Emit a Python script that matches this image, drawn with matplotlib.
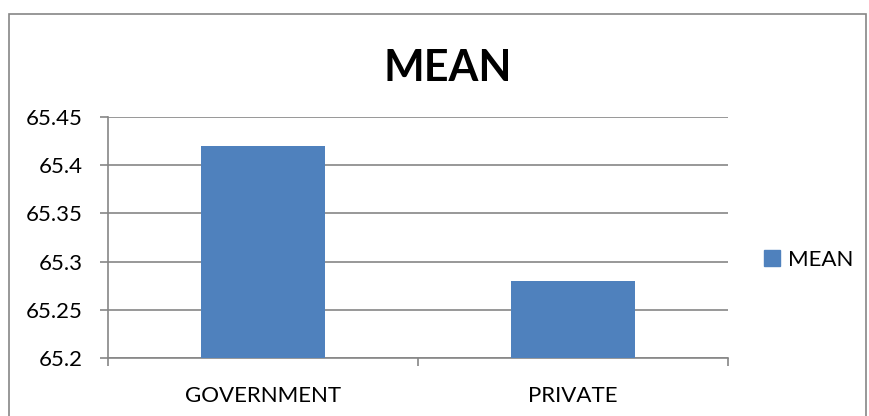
import matplotlib.pyplot as plt
from matplotlib.patches import Rectangle, Patch

categories = ["GOVERNMENT", "PRIVATE"]
mean_values = [65.42, 65.28]
y_ticks = [65.2, 65.25, 65.3, 65.35, 65.4, 65.45]
y_labels = ["65.2", "65.25", "65.3", "65.35", "65.4", "65.45"]

plt.rcParams['font.family'] = ['Lato', 'DejaVu Sans']

fig = plt.figure(figsize=(8.7, 4.16), dpi=100)

# outer chart border
fig.patches.append(Rectangle((9 / 870, -0.1), 857 / 870, 1.1 - 14 / 416,
                             transform=fig.transFigure, fill=False,
                             edgecolor='#868686', linewidth=1.2))

ax = fig.add_axes([108 / 870, 1 - 358 / 416, 620 / 870, 241 / 416])
x = range(len(categories))
ax.bar(x, mean_values, width=0.4, color='#4F81BD', zorder=3)

ax.set_xlim(-0.5, 1.5)
ax.set_ylim(65.2, 65.45)
ax.set_yticks(y_ticks)
ax.set_yticklabels(y_labels, fontsize=16)
ax.yaxis.grid(True, color='#868686', linewidth=1.2, zorder=0)

ax.set_xticks([-0.5, 0.5, 1.5])
ax.set_xticklabels([])
ax.set_xticks(list(x), minor=True)
ax.set_xticklabels(categories, minor=True, fontsize=16)
ax.tick_params(axis='x', which='minor', length=0, pad=20)
ax.tick_params(axis='x', which='major', length=6, width=1.2, color='#868686')
ax.tick_params(axis='y', length=6, width=1.2, color='#868686', pad=12)

for side in ['top', 'right']:
    ax.spines[side].set_visible(False)
for side in ['left', 'bottom']:
    ax.spines[side].set_color('#868686')
    ax.spines[side].set_linewidth(1.2)

fig.text(448 / 870, 1 - 68 / 416, "MEAN", fontsize=31, fontweight='bold',
         ha='center', va='center')

fig.legend(handles=[Patch(color='#4F81BD', label='MEAN')],
           loc='center left', bbox_to_anchor=(744 / 870, 1 - 260 / 416),
           frameon=False, fontsize=16, handlelength=0.7, handleheight=0.7,
           handletextpad=0.4)

fig.savefig("out.png", dpi=100)
